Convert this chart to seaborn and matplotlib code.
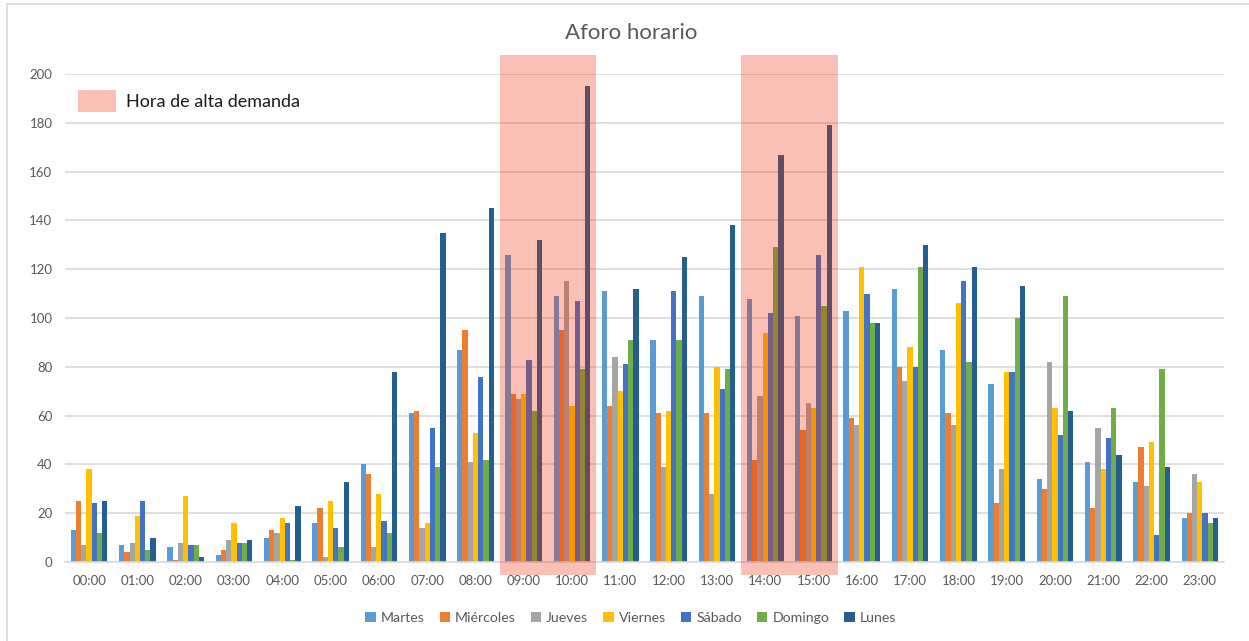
import matplotlib
matplotlib.use("Agg")
import matplotlib.pyplot as plt
from matplotlib.patches import Rectangle, Patch
import numpy as np
import pandas as pd
import seaborn as sns

# Hourly attendance per weekday
hours = ["00:00", "01:00", "02:00", "03:00", "04:00", "05:00", "06:00", "07:00",
         "08:00", "09:00", "10:00", "11:00", "12:00", "13:00", "14:00", "15:00",
         "16:00", "17:00", "18:00", "19:00", "20:00", "21:00", "22:00", "23:00"]
days = ["Martes", "Miércoles", "Jueves", "Viernes", "Sábado", "Domingo", "Lunes"]

martes    = [13, 7, 6, 3, 10, 16, 40, 61, 87, 126, 109, 111, 91, 109, 108, 101, 103, 112, 87, 73, 34, 41, 33, 18]
miercoles = [25, 4, 1, 5, 13, 22, 36, 62, 95, 69, 95, 64, 61, 61, 42, 54, 59, 80, 61, 24, 30, 22, 47, 20]
jueves    = [7, 8, 8, 9, 12, 2, 6, 14, 41, 67, 115, 84, 39, 28, 68, 65, 56, 74, 56, 38, 82, 55, 31, 36]
viernes   = [38, 19, 27, 16, 18, 25, 28, 16, 53, 69, 64, 70, 62, 80, 94, 63, 121, 88, 106, 78, 63, 38, 49, 33]
sabado    = [24, 25, 7, 8, 16, 14, 17, 55, 76, 83, 107, 81, 111, 71, 102, 126, 110, 80, 115, 78, 52, 51, 11, 20]
domingo   = [12, 5, 7, 8, 1, 6, 12, 39, 42, 62, 79, 91, 91, 79, 129, 105, 98, 121, 82, 100, 109, 63, 79, 16]
lunes     = [25, 10, 2, 9, 23, 33, 78, 135, 145, 132, 195, 112, 125, 138, 167, 179, 98, 130, 121, 113, 62, 44, 39, 18]

day_colors = ["#5B9BD5", "#ED7D31", "#A5A5A5", "#FFC000", "#4472C4", "#70AD47", "#255E91"]

# Peak-demand hour windows (first hour, last hour)
peak_windows = [("09:00", "10:00"), ("14:00", "15:00")]
peak_label = "Hora de alta demanda"
title = "Aforo horario"

series = [martes, miercoles, jueves, viernes, sabado, domingo, lunes]
df = pd.DataFrame({
    "hora": np.tile(hours, len(days)),
    "dia": np.repeat(days, len(hours)),
    "aforo": np.concatenate(series),
})

sns.set_theme(style="white")
plt.rcParams["font.family"] = ["Lato", "DejaVu Sans"]

text_grey = "#595959"
fig = plt.figure(figsize=(12.49, 6.41), dpi=100)
ax = fig.add_axes([0.052, 0.1232, 0.928, 0.7613])

sns.barplot(data=df, x="hora", y="aforo", hue="dia", order=hours, hue_order=days,
            palette=day_colors, width=0.76, ax=ax, legend=False,
            edgecolor="none", saturation=1)

ax.set_xlim(-0.5, len(hours) - 0.5)
ax.set_ylim(0, 200)
ax.set_yticks(np.arange(0, 201, 20))
ax.yaxis.grid(True, color="#D9D9D9", linewidth=1.2)
ax.set_axisbelow(True)
for s in ["top", "right", "left"]:
    ax.spines[s].set_visible(False)
ax.spines["bottom"].set_color("#D9D9D9")
ax.spines["bottom"].set_linewidth(1.2)
ax.set_xlabel("")
ax.set_ylabel("")
ax.tick_params(axis="both", length=0, colors=text_grey, labelsize=9.5)
ax.tick_params(axis="y", pad=9)
ax.tick_params(axis="x", pad=9)

# Translucent peak-hour bands drawn over the bars
band_color = "#F02800"
band_alpha = 0.29
for start, end in peak_windows:
    x0 = hours.index(start) - 0.5
    x1 = hours.index(end) + 0.5
    ax.add_patch(Rectangle((x0, -5.3), x1 - x0, 213.3, facecolor=band_color,
                           alpha=band_alpha, edgecolor="none", zorder=5,
                           clip_on=False))

# Peak-hour key in the upper left
ax.legend(handles=[Patch(facecolor=band_color, alpha=band_alpha, edgecolor="none")],
          labels=[peak_label], loc="upper left", bbox_to_anchor=(-0.003, 1.0),
          frameon=False, fontsize=13, handlelength=2.1, handleheight=1.5,
          handletextpad=0.55, labelcolor="#1a1a1a")

fig.suptitle(title, x=0.505, y=0.948, va="center", fontsize=16, color=text_grey)

# Weekday legend along the bottom
handles = [Patch(facecolor=c, edgecolor="none") for c in day_colors]
fig.legend(handles, days, loc="center", bbox_to_anchor=(0.505, 0.036), ncol=7,
           frameon=False, fontsize=10.2, handlelength=0.75, handleheight=0.75,
           handletextpad=0.35, columnspacing=1.05, labelcolor=text_grey)

# Chart frame
fig.patches.append(Rectangle((7 / 1249, -0.01), 1.02, 1 - 4 / 641 + 0.01,
                             transform=fig.transFigure, fill=False,
                             edgecolor="#D9D9D9", linewidth=1.2))

fig.savefig("out.png", dpi=100)
